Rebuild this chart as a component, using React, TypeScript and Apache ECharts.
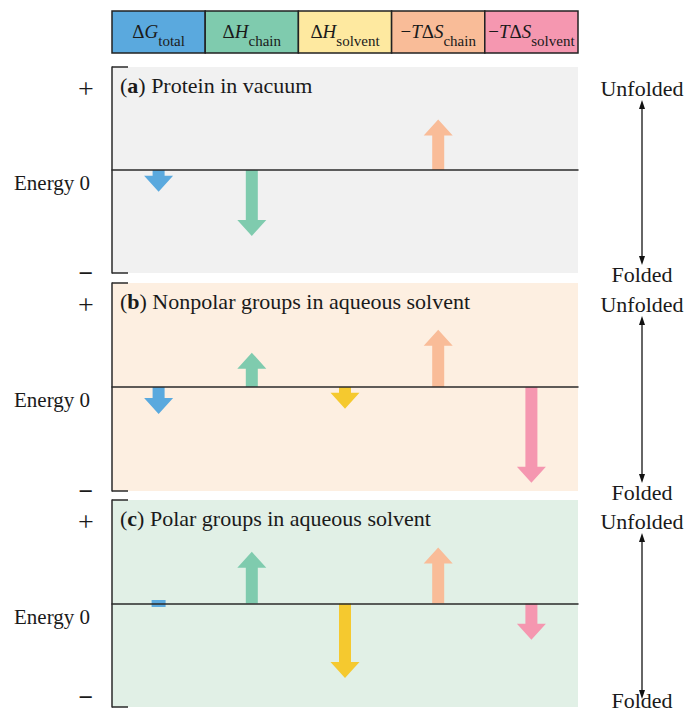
import React, { useEffect, useRef } from "react";
import * as echarts from "echarts";

// ---------- data ----------
const categories = ["ΔG total", "ΔH chain", "ΔH solvent", "−TΔS chain", "−TΔS solvent"];
const legendRich = [
  "{d|Δ}{i|G}{s|total}",
  "{d|Δ}{i|H}{s|chain}",
  "{d|Δ}{i|H}{s|solvent}",
  "{d|−}{i|T}{d|Δ}{i|S}{s|chain}",
  "{d|−}{i|T}{d|Δ}{i|S}{s|solvent}",
];
const legendColors = ["#5aa9de", "#7fcbae", "#fee9a0", "#f9bc98", "#f597b0"];
const arrowColors = ["#5aa9de", "#7fcbae", "#f5c92f", "#f9bc98", "#f597b0"];

const panelLetters = ["a", "b", "c"];
const panelTitles = ["Protein in vacuum", "Nonpolar groups in aqueous solvent", "Polar groups in aqueous solvent"];
const panelBackgrounds = ["#f1f1f1", "#fdefe1", "#e1f0e6"];

const vacuumValues: (number | null)[] = [-2.1, -6.4, null, 4.9, null];
const nonpolarValues: (number | null)[] = [-2.6, 3.3, -2.1, 5.5, -9.2];
const polarValues: (number | null)[] = [0, 5.0, -7.2, 5.4, -3.5];

const yTickLabels = ["+", "Energy 0", "−"];
const stateLabels = ["Unfolded", "Folded"];

// ---------- layout ----------
const FONT = "'Liberation Serif', 'Times New Roman', serif";
const PLOT_LEFT = 112;
const PLOT_WIDTH = 466;
const PANEL_TOPS = [67, 283, 500];
const PANEL_HEIGHTS = [206, 208, 207];
const INK = "#2a2a2a";
const TEXT = "#1a1a1a";

export default function App() {
  const ref = useRef<HTMLDivElement>(null);

  useEffect(() => {
    if (!ref.current) return;
    const chart = echarts.init(ref.current, undefined, { renderer: "svg" });
    const panels = [vacuumValues, nonpolarValues, polarValues];

    const grids = panels.map((_, k) => ({
      left: PLOT_LEFT,
      top: PANEL_TOPS[k],
      width: PLOT_WIDTH,
      height: PANEL_HEIGHTS[k],
      show: true,
      backgroundColor: panelBackgrounds[k],
      borderWidth: 0,
    }));

    const xAxes = panels.map((_, k) => ({
      type: "category",
      gridIndex: k,
      data: categories,
      z: 5,
      axisLine: { show: true, onZero: true, lineStyle: { color: INK, width: 1.5 } },
      axisTick: { show: false },
      axisLabel: { show: false },
      splitLine: { show: false },
    }));

    const yAxes = panels.map((_, k) => ({
      type: "value",
      gridIndex: k,
      min: -10,
      max: 10,
      axisLine: { show: true, onZero: false, lineStyle: { color: INK, width: 1.5 } },
      axisTick: { show: false },
      axisLabel: { show: false },
      splitLine: { show: false },
    }));

    const series = panels.map((vals, k) => ({
      type: "custom",
      xAxisIndex: k,
      yAxisIndex: k,
      data: vals.map((v, i) => [i, v]).filter((d) => d[1] !== null),
      renderItem: (_params: any, api: any) => {
        const i = api.value(0) as number;
        const v = api.value(1) as number;
        const base = api.coord([i, 0]);
        const x = base[0];
        const color = arrowColors[i];
        if (Math.abs(v) < 0.05) {
          return {
            type: "rect",
            shape: { x: x - 7, y: base[1] - 3.5, width: 14, height: 7 },
            style: { fill: color },
          };
        }
        const tip = api.coord([i, v]);
        const dir = tip[1] < base[1] ? -1 : 1;
        const sw = 6;
        const hw = 14.5;
        const hh = 16;
        const neck = tip[1] - dir * hh;
        return {
          type: "polygon",
          shape: {
            points: [
              [x - sw, base[1]],
              [x - sw, neck],
              [x - hw, neck],
              [x, tip[1]],
              [x + hw, neck],
              [x + sw, neck],
              [x + sw, base[1]],
            ],
          },
          style: { fill: color },
        };
      },
    }));

    const graphic: any[] = [];

    // legend boxes
    const cellW = PLOT_WIDTH / categories.length;
    categories.forEach((_, k) => {
      graphic.push({
        type: "rect",
        shape: { x: PLOT_LEFT + k * cellW, y: 11, width: cellW, height: 42 },
        style: { fill: legendColors[k], stroke: "#222", lineWidth: 1.5 },
      });
      graphic.push({
        type: "text",
        x: PLOT_LEFT + k * cellW + cellW / 2,
        y: 31,
        style: {
          text: legendRich[k],
          align: "center",
          verticalAlign: "middle",
          fill: TEXT,
          fontFamily: FONT,
          rich: {
            d: { fontSize: 19, fontFamily: FONT, fill: TEXT, lineHeight: 22 },
            i: { fontSize: 19, fontFamily: FONT, fontStyle: "italic", fill: TEXT, lineHeight: 22 },
            s: { fontSize: 15, fontFamily: FONT, fill: TEXT, lineHeight: 14, verticalAlign: "bottom", padding: [0, 0, -6, 0] },
          },
        },
      });
    });

    PANEL_TOPS.forEach((top, k) => {
      const h = PANEL_HEIGHTS[k];
      const bottom = top + h;
      const zeroY = top + h / 2;
      // bracket ticks
      graphic.push({ type: "line", shape: { x1: PLOT_LEFT, y1: top, x2: PLOT_LEFT + 16, y2: top }, style: { stroke: INK, lineWidth: 1.5 } });
      graphic.push({ type: "line", shape: { x1: PLOT_LEFT, y1: bottom, x2: PLOT_LEFT + 16, y2: bottom }, style: { stroke: INK, lineWidth: 1.5 } });
      // panel title
      graphic.push({
        type: "text",
        x: 120,
        y: top + 18,
        style: {
          text: "({b|" + panelLetters[k] + "}) " + panelTitles[k],
          verticalAlign: "middle",
          fontFamily: FONT,
          fontSize: 22,
          fill: TEXT,
          rich: { b: { fontFamily: FONT, fontSize: 22, fontWeight: "bold", fill: TEXT } },
        },
      });
      // energy labels
      const minusY = Math.min(bottom, 697);
      graphic.push({ type: "text", x: 86, y: top + 21, style: { text: yTickLabels[0], align: "center", verticalAlign: "middle", fontFamily: FONT, fontSize: 28, fill: TEXT } });
      graphic.push({ type: "text", x: 90, y: zeroY + 13, style: { text: yTickLabels[1], align: "right", verticalAlign: "middle", fontFamily: FONT, fontSize: 21, fill: TEXT } });
      graphic.push({ type: "text", x: 86, y: minusY, style: { text: yTickLabels[2], align: "center", verticalAlign: "middle", fontFamily: FONT, fontSize: 26, fontWeight: "bold", fill: TEXT } });
      // state labels and double arrow
      const ax = 642;
      const y1 = top + 33;
      const y2 = bottom - 8;
      const foldedY = Math.min(bottom + 1, 700);
      graphic.push({ type: "text", x: ax, y: top + 21, style: { text: stateLabels[0], align: "center", verticalAlign: "middle", fontFamily: FONT, fontSize: 22, fill: TEXT } });
      graphic.push({ type: "text", x: ax, y: foldedY, style: { text: stateLabels[1], align: "center", verticalAlign: "middle", fontFamily: FONT, fontSize: 22, fill: TEXT } });
      graphic.push({ type: "line", shape: { x1: ax, y1: y1 + 6, x2: ax, y2: y2 - 6 }, style: { stroke: "#333", lineWidth: 1.5 } });
      graphic.push({ type: "polygon", shape: { points: [[ax, y1], [ax - 3, y1 + 9], [ax + 3, y1 + 9]] }, style: { fill: "#111" } });
      graphic.push({ type: "polygon", shape: { points: [[ax, y2], [ax - 3, y2 - 9], [ax + 3, y2 - 9]] }, style: { fill: "#111" } });
    });

    chart.setOption({
      animation: false,
      backgroundColor: "#ffffff",
      grid: grids,
      xAxis: xAxes,
      yAxis: yAxes,
      series,
      graphic,
    } as any);

    return () => chart.dispose();
  }, []);

  return <div ref={ref} style={{ position: "fixed", left: 0, top: 0, width: 688, height: 712 }} />;
}
